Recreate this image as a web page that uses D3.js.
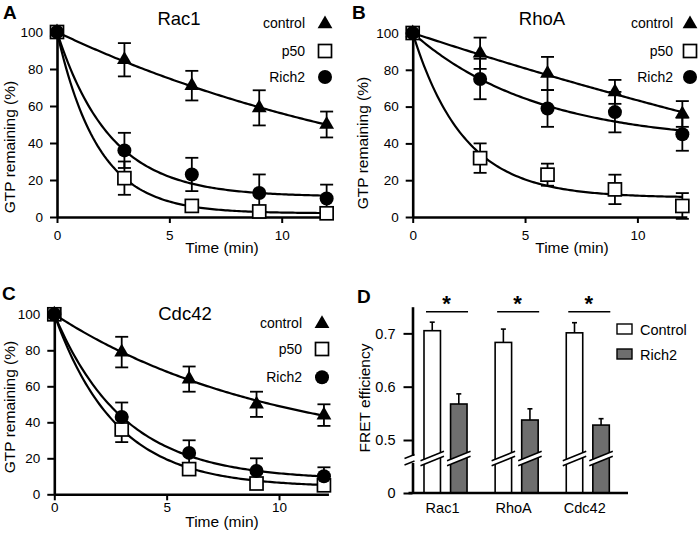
<!DOCTYPE html>
<html><head><meta charset="utf-8">
<script src="https://cdn.jsdelivr.net/npm/d3@7"></script>
<style>body{margin:0;background:#fff} svg{display:block;font-family:"Liberation Sans",Arial,sans-serif}</style>
</head><body><svg id="c" width="700" height="533"></svg>
<script>
// ---------- DATA ----------
const times = [0, 3, 6, 9, 12];
const seriesNames = ["control", "p50", "Rich2"];
const xTicks = [0, 5, 10];
const yTicks = [0, 20, 40, 60, 80, 100];

const rac1Control = [100, 85, 71, 59, 50];
const rac1ControlErr = [0, 9, 8, 9.5, 7];
const rac1P50 = [100, 21, 6, 3, 2];
const rac1P50Err = [0, 9, 2, 2, 2];
const rac1Rich2 = [100, 36, 23, 13, 10];
const rac1Rich2Err = [0, 9.5, 9, 10, 7.5];

const rhoaControl = [100, 89, 78, 68, 56];
const rhoaControlErr = [0, 8.5, 9, 6.5, 7];
const rhoaP50 = [100, 32, 23, 15, 6];
const rhoaP50Err = [0, 8, 6, 8, 7];
const rhoaRich2 = [100, 75, 59, 57, 45];
const rhoaRich2Err = [0, 11, 10, 11, 9];

const cdc42Control = [100, 79, 64, 50, 44];
const cdc42ControlErr = [0, 8.5, 7, 7, 6];
const cdc42P50 = [100, 36, 14, 6, 5];
const cdc42P50Err = [0, 7, 3, 2, 2];
const cdc42Rich2 = [100, 43, 23, 13, 10];
const cdc42Rich2Err = [0, 8, 7, 7, 5];

// one-phase decay fit parameters (plateau, rate per min) per series: control, p50, Rich2
const rac1FitPlateau = [0, 2, 11];
const rac1FitRate = [0.058, 0.547, 0.423];
const rhoaFitPlateau = [-100, 10.5, 40];
const rhoaFitRate = [0.0202, 0.44, 0.18];
const cdc42FitPlateau = [20, 4, 8];
const cdc42FitRate = [0.1015, 0.366, 0.322];

const fretCategories = ["Rac1", "RhoA", "Cdc42"];
const fretGroups = ["Control", "Rich2"];
const fretControl = [0.705, 0.683, 0.701];
const fretControlErr = [0.016, 0.025, 0.019];
const fretRich2 = [0.5675, 0.5375, 0.528];
const fretRich2Err = [0.019, 0.021, 0.012];
const fretTicks = [0, 0.5, 0.6, 0.7];

// ---------- DRAW ----------
const svg = d3.select("#c");
const FONT = '"Liberation Sans",Arial,sans-serif';

function styleAxis(g, fs) {
  g.select(".domain").attr("stroke", "#000").attr("stroke-width", 2.6);
  g.selectAll(".tick line").attr("stroke", "#000").attr("stroke-width", 2);
  g.selectAll(".tick text").attr("fill", "#000").attr("font-size", fs).attr("font-family", FONT);
}

function marker(g, type, x, y) {
  if (type === "control") {
    g.append("path").attr("d", d3.symbol(d3.symbolTriangle, 95)())
      .attr("transform", `translate(${x},${y})`).attr("fill", "#000");
  } else if (type === "p50") {
    g.append("rect").attr("x", x - 6.5).attr("y", y - 6.5).attr("width", 13).attr("height", 13)
      .attr("fill", "#fff").attr("stroke", "#000").attr("stroke-width", 1.7);
  } else {
    g.append("circle").attr("cx", x).attr("cy", y).attr("r", 7).attr("fill", "#000");
  }
}

const panels = [
  { title: "Rac1", letter: "A", vals: [rac1Control, rac1P50, rac1Rich2], errs: [rac1ControlErr, rac1P50Err, rac1Rich2Err],
    plateau: rac1FitPlateau, rate: rac1FitRate,
    x0: 57, y0: 217, yTop: 32, letterXY: [3, 19], titleXY: [179, 25], ylabXY: [15, 147], xlabXY: [222, 253], tickPad: 7,
    legTextX: 305, legMarkX: 325, legY: [23, 51, 77] },
  { title: "RhoA", letter: "B", vals: [rhoaControl, rhoaP50, rhoaRich2], errs: [rhoaControlErr, rhoaP50Err, rhoaRich2Err],
    plateau: rhoaFitPlateau, rate: rhoaFitRate,
    x0: 412.7, y0: 217, yTop: 33, letterXY: [352, 19], titleXY: [542, 25], ylabXY: [368, 143], xlabXY: [572, 253], tickPad: 7,
    legTextX: 673, legMarkX: 690, legY: [23, 51, 77] },
  { title: "Cdc42", letter: "C", vals: [cdc42Control, cdc42P50, cdc42Rich2], errs: [cdc42ControlErr, cdc42P50Err, cdc42Rich2Err],
    plateau: cdc42FitPlateau, rate: cdc42FitRate,
    x0: 54.3, y0: 494.3, yTop: 314.3, letterXY: [2, 300], titleXY: [185, 320], ylabXY: [15, 407], xlabXY: [222, 527], tickPad: 2,
    legTextX: 302, legMarkX: 322, legY: [322.7, 349, 377.3] }
];

panels.forEach(p => {
  const g = svg.append("g");
  const x = d3.scaleLinear().domain([0, 12.2]).range([p.x0, p.x0 + 22.47 * 12.2]);
  const y = d3.scaleLinear().domain([0, 100]).range([p.y0, p.yTop]);

  const ya = g.append("g").attr("transform", `translate(${p.x0},0)`)
    .call(d3.axisLeft(y).tickValues(yTicks).tickSize(7).tickSizeOuter(0).tickPadding(7));
  styleAxis(ya, 13.5);
  const xa = g.append("g").attr("transform", `translate(0,${p.y0})`)
    .call(d3.axisBottom(x).tickValues(xTicks).tickSize(6).tickSizeOuter(0).tickPadding(p.tickPad));
  styleAxis(xa, 13.5);

  // fitted curves
  const tt = d3.range(0, 12.001, 0.1);
  seriesNames.forEach((s, i) => {
    const line = d3.line().x(t => x(t)).y(t => y(p.plateau[i] + (100 - p.plateau[i]) * Math.exp(-p.rate[i] * t)));
    g.append("path").attr("d", line(tt)).attr("fill", "none").attr("stroke", "#000").attr("stroke-width", 2.2);
  });

  // error bars
  seriesNames.forEach((s, i) => {
    times.forEach((t, j) => {
      const e = p.errs[i][j];
      if (!e) return;
      const v = p.vals[i][j], cx = x(t);
      const eb = g.append("g").attr("stroke", "#000").attr("stroke-width", 1.8);
      eb.append("line").attr("x1", cx).attr("x2", cx).attr("y1", y(v - e)).attr("y2", y(v + e));
      [v - e, v + e].forEach(vv => eb.append("line").attr("x1", cx - 6.5).attr("x2", cx + 6.5).attr("y1", y(vv)).attr("y2", y(vv)));
    });
  });
  // markers: p50 first, then Rich2, then control
  [1, 2, 0].forEach(i => {
    times.forEach((t, j) => marker(g, seriesNames[i], x(t), y(p.vals[i][j])));
  });

  // texts
  g.append("text").attr("x", p.letterXY[0]).attr("y", p.letterXY[1]).text(p.letter)
    .attr("font-size", 19).attr("font-weight", "bold");
  g.append("text").attr("x", p.titleXY[0]).attr("y", p.titleXY[1]).text(p.title)
    .attr("font-size", 18.5).attr("text-anchor", "middle");
  g.append("text").attr("transform", `translate(${p.ylabXY[0]},${p.ylabXY[1]}) rotate(-90)`)
    .attr("text-anchor", "middle").attr("font-size", 15.5).text("GTP remaining (%)");
  g.append("text").attr("x", p.xlabXY[0]).attr("y", p.xlabXY[1]).attr("text-anchor", "middle")
    .attr("font-size", 15.5).text("Time (min)");

  // legend
  seriesNames.forEach((s, i) => {
    g.append("text").attr("x", p.legTextX).attr("y", p.legY[i] + 5).attr("text-anchor", "end")
      .attr("font-size", 14).text(s);
    marker(g, s, p.legMarkX, p.legY[i] + (s === "control" ? 1 : 0));
  });
});

// ---------- Panel D ----------
(function () {
  const g = svg.append("g");
  const axX = 412.5, axY = 493;
  const y = d3.scaleLinear().domain([0, 0.5, 0.75]).range([axY, 440, 306.7]);
  const xg = d3.scaleBand().domain(fretCategories).range([424, 609.3]).paddingInner(0.395);
  const xs = d3.scaleBand().domain(fretGroups).range([0, xg.bandwidth()]).paddingInner(0.38);
  const vals = [fretControl, fretRich2], errs = [fretControlErr, fretRich2Err];
  const fills = ["#fff", "#6e6e6e"];
  const breakY = 458.5;

  fretCategories.forEach((c, ci) => {
    fretGroups.forEach((grp, gi) => {
      const bx = xg(c) + xs(grp), bw = xs.bandwidth(), v = vals[gi][ci], e = errs[gi][ci];
      g.append("line").attr("x1", bx + bw / 2).attr("x2", bx + bw / 2).attr("y1", y(v)).attr("y2", y(v + e))
        .attr("stroke", "#000").attr("stroke-width", 1.6);
      g.append("line").attr("x1", bx + bw / 2 - 2.5).attr("x2", bx + bw / 2 + 2.5).attr("y1", y(v + e)).attr("y2", y(v + e))
        .attr("stroke", "#000").attr("stroke-width", 1.6);
      g.append("rect").attr("x", bx).attr("y", y(v)).attr("width", bw).attr("height", y(0) - y(v))
        .attr("fill", fills[gi]).attr("stroke", "#000").attr("stroke-width", 1.6);
      // bar break
      const xl = bx - 3.5, xr = bx + bw + 3.5, dy = (xr - xl) * 0.2;
      g.append("path").attr("d", `M${xl},${breakY + dy - 2.5}L${xr},${breakY - dy - 2.5}L${xr},${breakY - dy + 2.5}L${xl},${breakY + dy + 2.5}Z`)
        .attr("fill", "#fff");
      [-2.5, 2.5].forEach(o => g.append("line").attr("x1", xl).attr("y1", breakY + dy + o).attr("x2", xr).attr("y2", breakY - dy + o)
        .attr("stroke", "#000").attr("stroke-width", 1.5));
    });
    // significance
    const l = xg(c), r = xg(c) + xg.bandwidth();
    g.append("line").attr("x1", l + 2).attr("x2", r + 1).attr("y1", 311.7).attr("y2", 311.7).attr("stroke", "#000").attr("stroke-width", 1.6);
    g.append("text").attr("x", (l + r) / 2 + 1).attr("y", 311).attr("text-anchor", "middle").attr("font-size", 22)
      .attr("font-weight", "bold").text("*");
  });

  const ya = g.append("g").attr("transform", `translate(${axX},0)`)
    .call(d3.axisLeft(y).tickValues(fretTicks).tickSize(9).tickSizeOuter(0).tickPadding(8).tickFormat(d3.format("")));
  styleAxis(ya, 14.5);
  const xa = g.append("g").attr("transform", `translate(0,${axY})`)
    .call(d3.axisBottom(xg).tickSize(0).tickSizeOuter(0).tickPadding(10));
  styleAxis(xa, 14.5);
  xa.select(".domain").attr("d", `M${axX - 4},0H628`);
  xa.selectAll(".tick text").attr("dx", -3);

  // axis break
  g.append("rect").attr("x", axX - 3).attr("y", 456).attr("width", 6).attr("height", 7).attr("fill", "#fff");
  [456.5, 463].forEach(yy => g.append("line").attr("x1", axX - 8).attr("y1", yy + 2).attr("x2", axX + 2).attr("y2", yy - 2)
    .attr("stroke", "#000").attr("stroke-width", 1.5));

  g.append("text").attr("x", 357).attr("y", 303).text("D").attr("font-size", 19).attr("font-weight", "bold");
  g.append("text").attr("transform", "translate(370,398) rotate(-90)").attr("text-anchor", "middle")
    .attr("font-size", 15.5).text("FRET efficiency");

  fretGroups.forEach((grp, gi) => {
    const ly = 324 + gi * 25;
    g.append("rect").attr("x", 617).attr("y", ly).attr("width", 15).attr("height", 10)
      .attr("fill", fills[gi]).attr("stroke", "#000").attr("stroke-width", 1.4);
    g.append("text").attr("x", 640).attr("y", ly + 11).attr("font-size", 14.5).text(grp);
  });
})();
</script></body></html>
